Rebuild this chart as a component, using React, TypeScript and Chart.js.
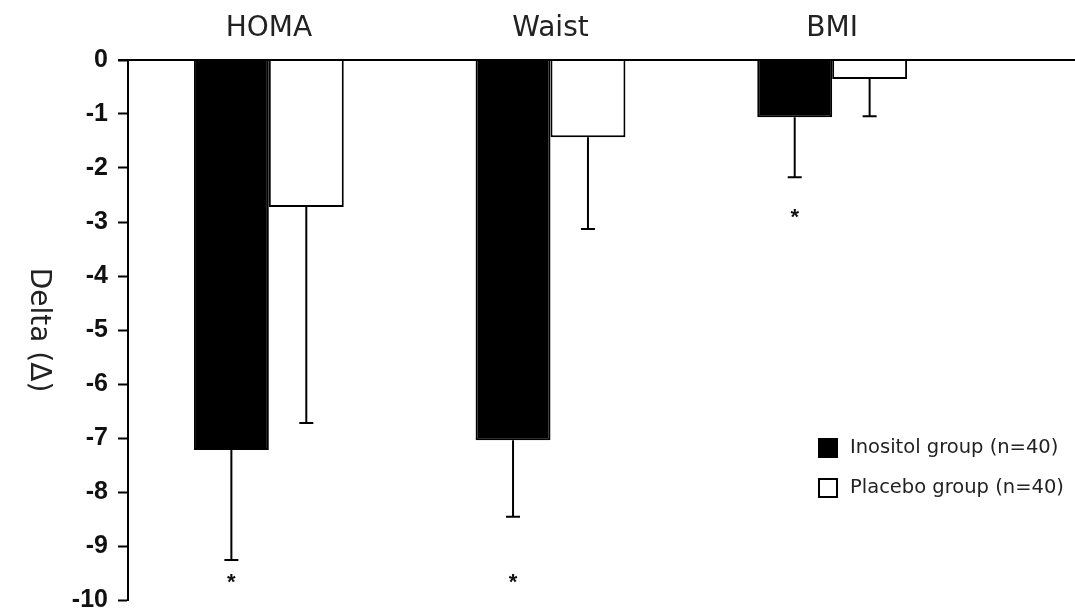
import React, { useEffect, useRef } from "react";
import { Chart, registerables } from "chart.js";

Chart.register(...registerables);

// ---- data ----
const categories = ["HOMA", "Waist", "BMI"];
const seriesLabels = ["Inositol group (n=40)", "Placebo group (n=40)"];
const inositolValues = [-7.22, -7.04, -1.06];
const inositolErrors = [2.04, 1.42, 1.11];
const placeboValues = [-2.72, -1.43, -0.35];
const placeboErrors = [4.0, 1.7, 0.69];
const asteriskLabels = ["*", "*", "*"];
const asteriskValues = [-9.6, -9.6, -2.85];
const yAxisTitle = "Delta (\u0394)";
const yTickValues = [0, -1, -2, -3, -4, -5, -6, -7, -8, -9, -10];

const errorsByDataset = [inositolErrors, placeboErrors];

const errorBarPlugin = {
  id: "errorBars",
  afterDatasetsDraw(chart: any) {
    const ctx = chart.ctx;
    const y = chart.scales.y;
    ctx.save();
    ctx.strokeStyle = "#000";
    ctx.lineWidth = 2;
    chart.data.datasets.forEach((ds: any, i: number) => {
      const meta = chart.getDatasetMeta(i);
      const errs = errorsByDataset[i];
      meta.data.forEach((bar: any, j: number) => {
        const v = ds.data[j];
        const y0 = y.getPixelForValue(v);
        const y1 = y.getPixelForValue(v - errs[j]);
        ctx.beginPath();
        ctx.moveTo(bar.x, y0);
        ctx.lineTo(bar.x, y1);
        ctx.moveTo(bar.x - 7, y1);
        ctx.lineTo(bar.x + 7, y1);
        ctx.stroke();
      });
    });
    // asterisks under the inositol bars
    const meta0 = chart.getDatasetMeta(0);
    ctx.fillStyle = "#111";
    ctx.font = "bold 22px 'Liberation Sans', Arial, sans-serif";
    ctx.textAlign = "center";
    ctx.textBaseline = "alphabetic";
    meta0.data.forEach((bar: any, j: number) => {
      const label = asteriskLabels[j];
      if (!label) return;
      const m = ctx.measureText(label);
      const py = y.getPixelForValue(asteriskValues[j]);
      const baseline = py + (m.actualBoundingBoxAscent - m.actualBoundingBoxDescent) / 2;
      ctx.fillText(label, bar.x, baseline);
    });
    ctx.restore();
  },
};

const decorPlugin = {
  id: "decor",
  afterDraw(chart: any) {
    const ctx = chart.ctx;
    const area = chart.chartArea;
    const y = chart.scales.y;
    ctx.save();
    // zero line across full width
    const y0 = y.getPixelForValue(0);
    ctx.strokeStyle = "#000";
    ctx.lineWidth = 2;
    ctx.beginPath();
    ctx.moveTo(area.left - 10, y0);
    ctx.lineTo(chart.width, y0);
    ctx.stroke();

    // y-axis title, rotated clockwise
    ctx.fillStyle = "#222";
    ctx.font = "28px 'DejaVu Sans', sans-serif";
    ctx.textAlign = "center";
    ctx.textBaseline = "middle";
    ctx.translate(38, 330);
    ctx.rotate(Math.PI / 2);
    ctx.fillText(yAxisTitle, 0, 0);
    ctx.restore();

    // legend
    ctx.save();
    const lx = area.right - 155;
    const ly = 438;
    ctx.font = "19.5px 'DejaVu Sans', sans-serif";
    ctx.textAlign = "left";
    ctx.textBaseline = "middle";
    chart.data.datasets.forEach((ds: any, i: number) => {
      const by = ly + i * 40;
      ctx.fillStyle = ds.backgroundColor;
      ctx.fillRect(lx, by, 20, 20);
      ctx.strokeStyle = "#000";
      ctx.lineWidth = 2;
      ctx.strokeRect(lx + 1, by + 1, 18, 18);
      ctx.fillStyle = "#222";
      ctx.fillText(ds.label, lx + 32, by + 10);
    });
    ctx.restore();
  },
};

export default function App() {
  const canvasRef = useRef<HTMLCanvasElement | null>(null);

  useEffect(() => {
    if (!canvasRef.current) return;
    const chart = new Chart(canvasRef.current, {
      type: "bar",
      data: {
        labels: categories,
        datasets: [
          {
            label: seriesLabels[0],
            data: inositolValues,
            backgroundColor: "#000000",
            borderColor: "#000000",
            borderWidth: 2,
          },
          {
            label: seriesLabels[1],
            data: placeboValues,
            backgroundColor: "#ffffff",
            borderColor: "#000000",
            borderWidth: 2,
          },
        ],
      },
      options: {
        animation: false,
        responsive: true,
        maintainAspectRatio: false,
        datasets: {
          bar: { barPercentage: 1, categoryPercentage: 0.532 },
        },
        layout: { padding: { top: 0, left: 0, right: 102, bottom: 0 } },
        plugins: {
          legend: { display: false },
          tooltip: { enabled: false },
        },
        scales: {
          x: {
            type: "category",
            position: "top",
            grid: { display: false, drawTicks: false },
            border: { display: false },
            ticks: {
              color: "#222",
              padding: 14,
              font: { family: "'DejaVu Sans', sans-serif", size: 28 },
            },
            afterFit: (s: any) => {
              s.height = 60;
            },
          },
          y: {
            min: yTickValues[yTickValues.length - 1],
            max: yTickValues[0],
            afterBuildTicks: (s: any) => {
              s.ticks = yTickValues.map((v) => ({ value: v }));
            },
            grid: {
              drawOnChartArea: false,
              drawTicks: true,
              tickLength: 10,
              tickWidth: 2,
              tickColor: "#000",
            },
            border: { display: true, color: "#000", width: 2 },
            ticks: {
              color: "#111",
              padding: 10,
              font: {
                family: "'Liberation Sans', Arial, sans-serif",
                size: 25,
                weight: "bold",
                lineHeight: 1,
              },
            },
            afterFit: (s: any) => {
              s.width = 128;
              s.paddingTop = 0;
              s.paddingBottom = 12;
            },
          },
        },
      },
      plugins: [errorBarPlugin, decorPlugin],
    } as any);
    return () => chart.destroy();
  }, []);

  return (
    <div style={{ position: "fixed", left: 0, top: 0, width: "1075px", height: "612px" }}>
      <canvas ref={canvasRef} />
    </div>
  );
}
